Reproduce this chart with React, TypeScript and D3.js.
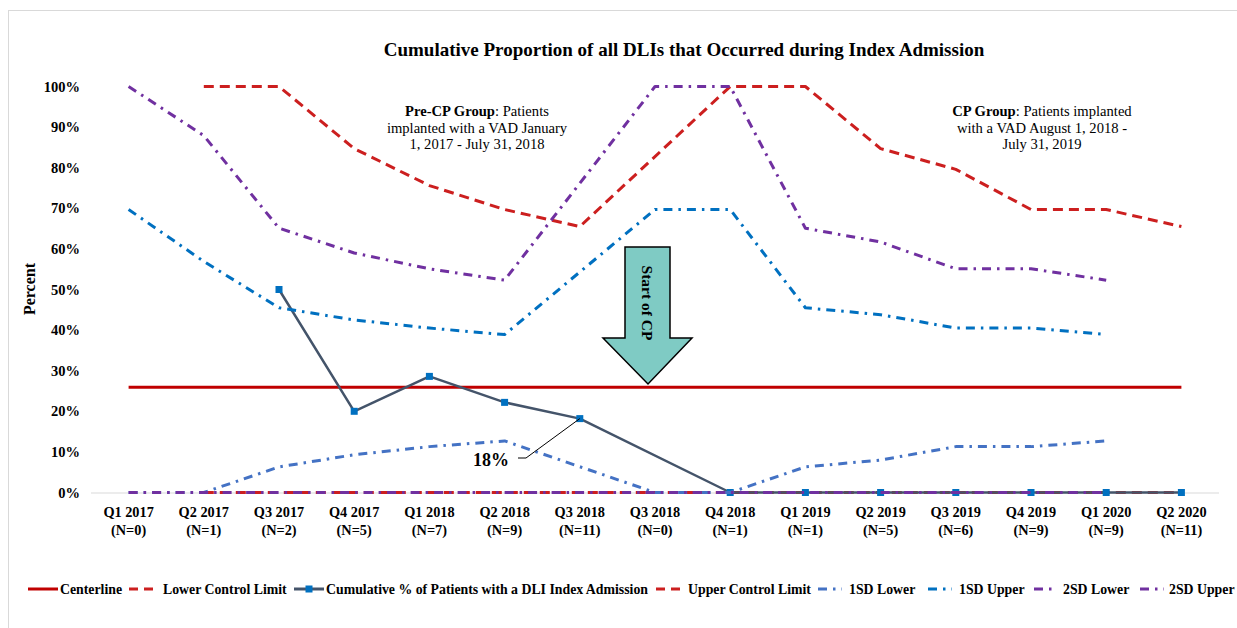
import { useEffect, useRef } from "react"
import * as d3 from "d3"

// quarters on the x axis (Q3 2018 appears twice in the original)
const quarters = ["Q1 2017", "Q2 2017", "Q3 2017", "Q4 2017", "Q1 2018", "Q2 2018", "Q3 2018", "Q3 2018", "Q4 2018", "Q1 2019", "Q2 2019", "Q3 2019", "Q4 2019", "Q1 2020", "Q2 2020"]
const nLabels = ["(N=0)", "(N=1)", "(N=2)", "(N=5)", "(N=7)", "(N=9)", "(N=11)", "(N=0)", "(N=1)", "(N=1)", "(N=5)", "(N=6)", "(N=9)", "(N=9)", "(N=11)"]

// series values in percent, null = no point (line connects across)
const centerline = 25.9
const lowerControl = [null, 0, 0, 0, 0, 0, 0, null, 0, 0, 0, 0, 0, 0, 0]
const cumulative = [null, null, 50, 20, 28.6, 22.2, 18.2, null, 0, 0, 0, 0, 0, 0, 0]
const upperControl = [null, 100, 100, 84.7, 75.6, 69.7, 65.5, null, 100, 100, 84.7, 79.6, 69.7, 69.7, 65.5]
const sd1Lower = [0, 0, 6.3, 9.3, 11.3, 12.7, null, 0, 0, 6.3, 8.0, 11.3, 11.3, 12.7, null]
const sd1Upper = [69.7, 56.9, 45.5, 42.5, 40.5, 38.9, null, 69.7, 69.7, 45.5, 43.8, 40.5, 40.5, 38.9, null]
const sd2Lower = [0, 0, 0, 0, 0, 0, null, 0, 0, 0, 0, 0, 0, 0, null]
const sd2Upper = [100, 87.9, 65.1, 59.0, 55.1, 52.3, null, 100, 100, 65.1, 61.7, 55.1, 55.1, 52.3, null]

const yTicks = [0, 10, 20, 30, 40, 50, 60, 70, 80, 90, 100]

const FONT = "'Liberation Serif', 'Times New Roman', serif"

export default function App() {
  const svgRef = useRef<SVGSVGElement>(null)

  useEffect(() => {
    if (!svgRef.current) return
    const svg = d3.select(svgRef.current)
    svg.selectAll("*").remove()

    const x = d3.scaleBand<number>().domain(quarters.map((_, i) => i)).range([91, 1219]).padding(0)
    const cx = (i: number) => (x(i) || 0) + x.bandwidth() / 2
    const y = d3.scaleLinear().domain([0, 100]).range([492.5, 86.5])

    // frame
    svg.append("rect").attr("x", 8.5).attr("y", 10.5).attr("width", 1240).attr("height", 640)
      .attr("fill", "#fff").attr("stroke", "#d9d9d9")

    // title
    svg.append("text").attr("x", 684).attr("y", 56).attr("text-anchor", "middle")
      .attr("font-family", FONT).attr("font-weight", "bold").attr("font-size", 19)
      .text("Cumulative Proportion of all DLIs that Occurred during Index Admission")

    // y axis labels
    svg.append("g").selectAll("text").data(yTicks).enter().append("text")
      .attr("x", 80).attr("y", (d) => y(d) + 5).attr("text-anchor", "end")
      .attr("font-family", FONT).attr("font-weight", "bold").attr("font-size", 14.5)
      .text((d) => d + "%")

    svg.append("text").attr("transform", "translate(35,289) rotate(-90)").attr("text-anchor", "middle")
      .attr("font-family", FONT).attr("font-weight", "bold").attr("font-size", 16)
      .text("Percent")

    // x axis line
    svg.append("line").attr("x1", 91).attr("x2", 1219).attr("y1", y(0) + 0.5).attr("y2", y(0) + 0.5)
      .attr("stroke", "#d9d9d9").attr("stroke-width", 1)

    const xl = svg.append("g").attr("font-family", FONT).attr("font-weight", "bold").attr("font-size", 14.3)
      .attr("text-anchor", "middle")
    xl.selectAll(".q").data(quarters).enter().append("text").attr("class", "q")
      .attr("x", (_, i) => cx(i)).attr("y", 517).text((d) => d)
    xl.selectAll(".n").data(nLabels).enter().append("text").attr("class", "n")
      .attr("x", (_, i) => cx(i)).attr("y", 535).text((d) => d)

    // annotations
    const note = (lines: [string, string][], xc: number) => {
      const g = svg.append("g").attr("font-family", FONT).attr("font-size", 14.6).attr("text-anchor", "middle")
      lines.forEach(([b, r], k) => {
        const t = g.append("text").attr("x", xc).attr("y", 116 + k * 16.5)
        if (b) t.append("tspan").attr("font-weight", "bold").text(b)
        t.append("tspan").text(r)
      })
    }
    note([["Pre-CP Group", ": Patients"], ["", "implanted with a VAD January"], ["", "1, 2017 - July 31, 2018"]], 477)
    note([["CP Group", ": Patients implanted"], ["", "with a VAD August 1, 2018 -"], ["", "July 31, 2019"]], 1042)

    // series
    const redDash = "#cc1f1f"
    const series = [
      { name: "Lower Control Limit", data: lowerControl, color: redDash, dash: "10,6", w: 3 },
      { name: "Cumulative % of Patients with a DLI Index Admission", data: cumulative, color: "#44546a", dash: null, w: 2.5 },
      { name: "Upper Control Limit", data: upperControl, color: redDash, dash: "10,6", w: 3 },
      { name: "1SD Lower", data: sd1Lower, color: "#4472c4", dash: "9,6,2.5,6", w: 3 },
      { name: "1SD Upper", data: sd1Upper, color: "#0070c0", dash: "9,6,2.5,6", w: 3 },
      { name: "2SD Lower", data: sd2Lower, color: "#7030a0", dash: "9,6,2.5,6", w: 3 },
      { name: "2SD Upper", data: sd2Upper, color: "#7030a0", dash: "9,6,2.5,6", w: 3 },
    ]

    // centerline
    svg.append("line").attr("x1", cx(0)).attr("x2", cx(quarters.length - 1))
      .attr("y1", y(centerline)).attr("y2", y(centerline))
      .attr("stroke", "#c00000").attr("stroke-width", 3)

    const line = d3.line<[number, number]>().x((d) => cx(d[0])).y((d) => y(d[1]))

    series.forEach((s) => {
      const pts = s.data.map((v, i) => [i, v] as [number, number | null])
        .filter((d) => d[1] != null) as [number, number][]
      svg.append("path").datum(pts).attr("d", line).attr("fill", "none")
        .attr("stroke", s.color).attr("stroke-width", s.w)
        .attr("stroke-dasharray", s.dash).attr("stroke-linejoin", "round")
      if (s.dash === null) {
        svg.append("g").selectAll("rect").data(pts).enter().append("rect")
          .attr("x", (d) => cx(d[0]) - 3.5).attr("y", (d) => y(d[1]) - 3.5)
          .attr("width", 7).attr("height", 7).attr("fill", "#0070c0")
      }
    })

    // 18% callout
    svg.append("polyline").attr("points", `518,458 526,458 ${cx(6)},${y(cumulative[6] as number)}`)
      .attr("fill", "none").attr("stroke", "#000").attr("stroke-width", 1)
    svg.append("text").attr("x", 491).attr("y", 466).attr("text-anchor", "middle")
      .attr("font-family", FONT).attr("font-weight", "bold").attr("font-size", 18).text("18%")

    // start-of-CP arrow
    svg.append("polygon")
      .attr("points", "625,247 670,247 670,338 692,338 648,384 603,338 625,338")
      .attr("fill", "#7fcbc4").attr("stroke", "#000").attr("stroke-width", 1.5)
    svg.append("text").attr("transform", "translate(647,303) rotate(90)").attr("text-anchor", "middle")
      .attr("dominant-baseline", "central").attr("font-family", FONT).attr("font-weight", "bold")
      .attr("font-size", 15.5).text("Start of CP")

    // legend
    const legend = [
      { name: "Centerline", color: "#c00000", dash: null, marker: false, x1: 28, x2: 58, tx: 60 },
      { ...series[0], marker: false, x1: 129, x2: 159, tx: 163 },
      { ...series[1], marker: true, x1: 294, x2: 324, tx: 326 },
      { ...series[2], marker: false, x1: 656, x2: 686, tx: 688 },
      { ...series[3], marker: false, x1: 818, x2: 842, tx: 849 },
      { ...series[4], marker: false, x1: 928, x2: 952, tx: 959 },
      { ...series[5], marker: false, x1: 1034, x2: 1057, tx: 1063 },
      { ...series[6], marker: false, x1: 1140, x2: 1164, tx: 1169 },
    ]
    const ly = 589
    const lg = svg.append("g")
    legend.forEach((l) => {
      lg.append("line").attr("x1", l.x1).attr("x2", l.x2).attr("y1", ly).attr("y2", ly)
        .attr("stroke", l.color).attr("stroke-width", 3)
        .attr("stroke-dasharray", l.dash ? (l.dash === "10,6" ? "9,6" : "9,6,2.5,6") : null)
      if (l.marker) {
        lg.append("rect").attr("x", (l.x1 + l.x2) / 2 - 3.5).attr("y", ly - 3.5)
          .attr("width", 7).attr("height", 7).attr("fill", "#0070c0")
      }
      lg.append("text").attr("x", l.tx).attr("y", ly + 5)
        .attr("font-family", FONT).attr("font-weight", "bold").attr("font-size", 13.8).text(l.name)
    })
  }, [])

  return (
    <div style={{ position: "absolute", left: 0, top: 0 }}>
      <svg ref={svgRef} width={1237} height={628} style={{ display: "block", background: "#fff" }}></svg>
    </div>
  )
}
